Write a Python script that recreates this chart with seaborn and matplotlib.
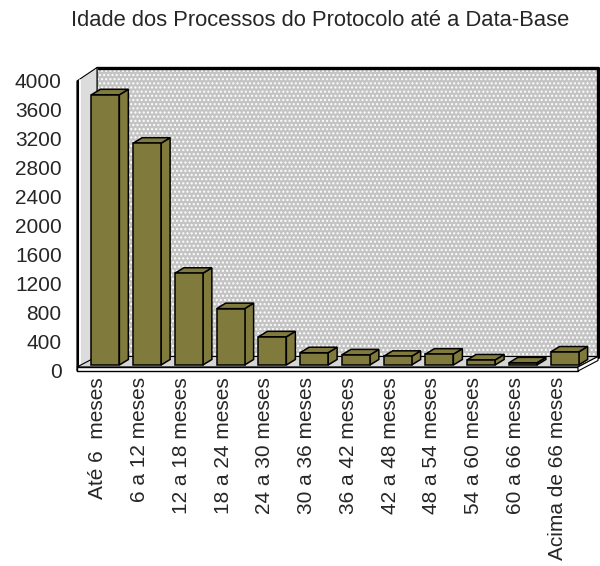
import matplotlib
matplotlib.use("Agg")
import matplotlib.pyplot as plt
import seaborn as sns
import pandas as pd
from matplotlib.patches import Rectangle, Polygon
from matplotlib.lines import Line2D
from matplotlib.transforms import IdentityTransform, offset_copy

categories = ["Até 6  meses", "6 a 12 meses", "12 a 18 meses", "18 a 24 meses",
              "24 a 30 meses", "30 a 36 meses", "36 a 42 meses", "42 a 48 meses",
              "48 a 54 meses", "54 a 60 meses", "60 a 66 meses", "Acima de 66 meses"]
values = [3740, 3070, 1270, 780, 390, 170, 140, 120, 150, 70, 30, 180]
yticks = list(range(0, 4001, 400))
title = "Idade dos Processos do Protocolo até a Data-Base"

OLIVE = "#807a3c"

sns.set_style("white")
plt.rcParams['font.family'] = ['Liberation Sans', 'DejaVu Sans']
plt.rcParams['hatch.linewidth'] = 1.0

fig = plt.figure(figsize=(6, 5.66), dpi=100)
W, H = 600, 566
ax = fig.add_axes([77 / W, (H - 370) / H, 501 / W, 289 / H])

df = pd.DataFrame({"cat": categories, "val": values})
sns.barplot(data=df, x="cat", y="val", color=OLIVE, saturation=1,
            edgecolor="black", linewidth=1.1, width=0.67, ax=ax, zorder=3)

ax.set_xlim(-0.5, 11.5)
ax.set_ylim(0, 4000)
ax.set_yticks(yticks)
ax.set_yticklabels([str(v) for v in yticks], fontsize=15)
ax.set_xticks(range(len(categories)))
ax.set_xticklabels(categories, rotation=90, fontsize=15)
ax.tick_params(axis='both', length=0)
ax.tick_params(axis='y', pad=11)
ax.tick_params(axis='x', pad=5)
ax.set_xlabel("")
ax.set_ylabel("")
for s in ax.spines.values():
    s.set_visible(False)
ax.patch.set_visible(False)

# geometry of the "3D" box (display pixels)
x0, y0 = ax.transAxes.transform((0, 0))
x1, y1 = ax.transAxes.transform((1, 1))
dx, dy = 20, 13.5
I = IdentityTransform()

# back wall
ax.add_patch(Rectangle((x0 + dx, y0 + dy), x1 - x0, y1 - y0, transform=I,
                       facecolor="#c4c4c4", edgecolor="white", hatch="....",
                       lw=0, zorder=0.1, clip_on=False))
ax.add_line(Line2D([x0 + dx, x1 + dx, x1 + dx], [y1 + dy, y1 + dy, y0 + dy],
                   transform=I, color="black", lw=2.4, zorder=0.2, clip_on=False))
ax.add_line(Line2D([x0 + dx, x0 + dx], [y0 + dy, y1 + dy],
                   transform=I, color="#808080", lw=0.8, zorder=0.2, clip_on=False))

# left wall
ax.add_patch(Polygon([(x0, y0 - 1), (x0, y1), (x0 + dx, y1 + dy), (x0 + dx, y0 + dy)],
                     closed=True, transform=I, facecolor="#dcdcdc", edgecolor="black",
                     lw=0.8, zorder=0.3, clip_on=False))
ax.add_line(Line2D([x0 + 1, x0 + 1], [y0 - 1, y1], transform=I, color="black",
                   lw=1.6, zorder=0.35, clip_on=False))
ax.add_line(Line2D([x0 + 3, x0 + 3], [y0 + 1, y1 + 1], transform=I, color="white",
                   lw=1.2, zorder=0.35, clip_on=False))

# floor
ft = y0 + 3
ax.add_patch(Polygon([(x0, ft), (x1, ft), (x1 + dx, y0 + dy), (x0 + dx, y0 + dy)],
                     closed=True, transform=I, facecolor="#d6d6d6", edgecolor="black",
                     lw=0.8, zorder=0.4, clip_on=False))
ax.add_patch(Polygon([(x0, y0 - 1), (x1, y0 - 1), (x1, ft), (x0, ft)],
                     closed=True, transform=I, facecolor="white", edgecolor="black",
                     lw=1.0, zorder=0.45, clip_on=False))
ax.add_patch(Polygon([(x1, y0 - 1), (x1 + dx, y0 + dy - 4), (x1 + dx, y0 + dy), (x1, ft)],
                     closed=True, transform=I, facecolor="white", edgecolor="black",
                     lw=0.8, zorder=0.45, clip_on=False))

# bars: shift into the box and add top/side faces
bar_tr = offset_copy(ax.transData, fig=fig, x=7.5, y=5, units='dots')
bdx, bdy = 9, 5.5
for p in list(ax.patches):
    if not isinstance(p, Rectangle) or p.get_transform() is I:
        continue
    if p.get_zorder() != 3:
        continue
    p.set_transform(bar_tr)
    p.set_clip_on(False)
    xl, w, h = p.get_x(), p.get_width(), p.get_height()
    TL, TR, BR = bar_tr.transform([(xl, h), (xl + w, h), (xl + w, 0)])
    top = [tuple(TL), tuple(TR), (TR[0] + bdx, TR[1] + bdy), (TL[0] + bdx, TL[1] + bdy)]
    side = [tuple(BR), tuple(TR), (TR[0] + bdx, TR[1] + bdy), (BR[0] + bdx, BR[1] + bdy)]
    for poly in (side, top):
        ax.add_patch(Polygon(poly, closed=True, transform=I, facecolor=OLIVE,
                             edgecolor="black", lw=1.1, zorder=2.9, clip_on=False))

fig.text(320 / W, 1 - 20 / H, title, ha="center", va="center", fontsize=15.8)

fig.savefig("out.png", dpi=100)
